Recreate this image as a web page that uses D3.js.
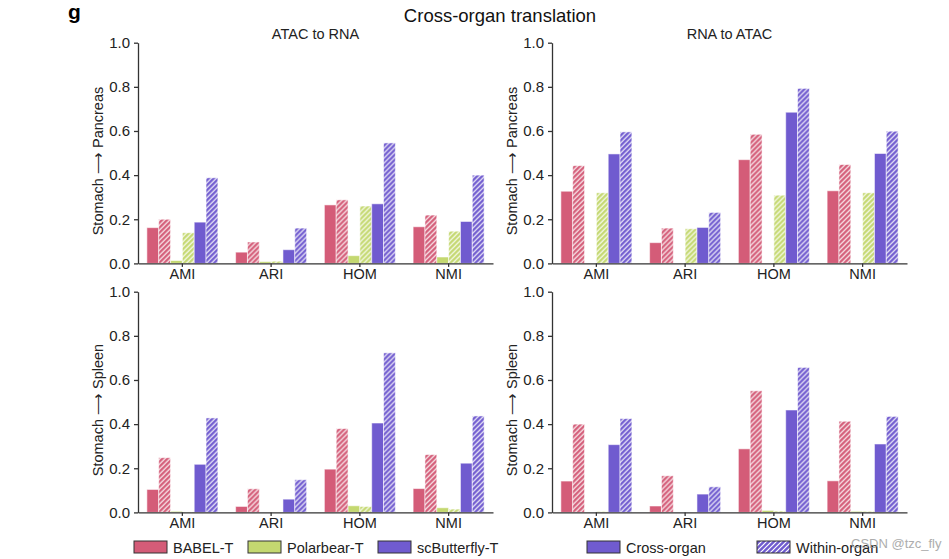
<!DOCTYPE html>
<html>
<head>
<meta charset="utf-8">
<script src="https://cdn.jsdelivr.net/npm/d3@7"></script>
<style>
  body { margin: 0; background: #fff; }
  svg { font-family: "Liberation Sans", Arial, sans-serif; }
  .tick text { fill: #222; }
  .domain, .tick line { stroke: #333; stroke-width: 1.3; }
</style>
</head>
<body>
<script>
const metrics = ["AMI", "ARI", "HOM", "NMI"];
const methods = ["BABEL-T", "Polarbear-T", "scButterfly-T"];
const methodColors = ["#D45C78", "#C4D870", "#705BCF"];
const yTicks = [0, 0.2, 0.4, 0.6, 0.8, 1.0];

// each row = one metric; columns: BABEL cross, BABEL within, Polarbear cross, Polarbear within, scButterfly cross, scButterfly within
const atacToRnaPancreas = [
    [0.162, 0.200, 0.013, 0.139, 0.187, 0.388],
    [0.051, 0.097, 0.008, 0.010, 0.062, 0.160],
    [0.265, 0.288, 0.035, 0.260, 0.270, 0.546],
    [0.166, 0.219, 0.029, 0.146, 0.190, 0.400]
];
const rnaToAtacPancreas = [
    [0.327, 0.443, 0.000, 0.320, 0.496, 0.596],
    [0.094, 0.160, 0.000, 0.157, 0.163, 0.231],
    [0.470, 0.585, 0.000, 0.309, 0.685, 0.793],
    [0.329, 0.448, 0.000, 0.320, 0.498, 0.599]
];
const atacToRnaSpleen = [
    [0.104, 0.248, 0.005, 0.002, 0.218, 0.428],
    [0.027, 0.107, 0.000, 0.000, 0.060, 0.148],
    [0.196, 0.380, 0.030, 0.027, 0.405, 0.723],
    [0.108, 0.262, 0.021, 0.015, 0.223, 0.437]
];
const rnaToAtacSpleen = [
    [0.142, 0.400, 0.000, 0.004, 0.307, 0.425],
    [0.029, 0.166, 0.000, 0.000, 0.083, 0.116],
    [0.288, 0.551, 0.009, 0.006, 0.464, 0.657],
    [0.143, 0.413, 0.005, 0.005, 0.310, 0.435]
];

const W = 949, H = 559;
const svg = d3.select("body").append("svg")
    .attr("width", W)
    .attr("height", H);

// hatch patterns (white //// on colour)
const defs = svg.append("defs");
methodColors.forEach((c, i) => {
    const p = defs.append("pattern")
        .attr("id", "hatch" + i)
        .attr("patternUnits", "userSpaceOnUse")
        .attr("width", 5)
        .attr("height", 5);
    p.append("rect").attr("width", 5).attr("height", 5).attr("fill", c);
    p.append("path")
        .attr("d", "M-1,1 l2,-2 M0,5 l5,-5 M4,6 l2,-2")
        .attr("stroke", "#fff")
        .attr("stroke-width", 1.2);
});

// titles
svg.append("text").attr("x", 68).attr("y", 19)
    .style("font-size", "21px").style("font-weight", "bold").text("g");
svg.append("text").attr("x", 500).attr("y", 22)
    .attr("text-anchor", "middle").style("font-size", "18.5px").attr("fill", "#111")
    .text("Cross-organ translation");

function drawPanel(left, top, data, title, ylabel) {
    const w = 355, h = 220.7;
    const g = svg.append("g").attr("transform", `translate(${left},${top})`);

    const x0 = d3.scaleBand().domain(metrics).range([0, w]).paddingInner(0.2).paddingOuter(0.1);
    const x1 = d3.scaleBand().domain(d3.range(6)).range([0, x0.bandwidth()]);
    const y = d3.scaleLinear().domain([0, 1]).range([h, 0]);

    const grp = g.selectAll(".grp")
        .data(data)
        .enter().append("g")
        .attr("transform", (d, i) => `translate(${x0(metrics[i])},0)`);

    grp.selectAll("rect")
        .data(d => d)
        .enter().append("rect")
        .attr("x", (d, j) => x1(j))
        .attr("width", x1.bandwidth())
        .attr("y", d => y(d))
        .attr("height", d => h - y(d))
        .attr("fill", (d, j) => j % 2 === 0 ? methodColors[Math.floor(j / 2)] : `url(#hatch${Math.floor(j / 2)})`)
        .attr("stroke", "#fff")
        .attr("stroke-opacity", 0.55)
        .attr("stroke-width", 1);

    g.append("g")
        .call(d3.axisLeft(y).tickValues(yTicks).tickFormat(d3.format(".1f"))
            .tickSize(4).tickPadding(4).tickSizeOuter(0))
        .selectAll(".tick text").style("font-size", "15px");

    g.append("g")
        .attr("transform", `translate(0,${h})`)
        .call(d3.axisBottom(x0).tickSize(3.5).tickPadding(2).tickSizeOuter(0))
        .selectAll(".tick text").style("font-size", "14.5px");

    if (title) {
        g.append("text").attr("x", w / 2).attr("y", -3.5)
            .attr("text-anchor", "middle").style("font-size", "14.5px").attr("fill", "#222")
            .text(title);
    }
    g.append("text")
        .attr("transform", `translate(-35,${h / 2 + 8}) rotate(-90)`)
        .attr("text-anchor", "middle").style("font-size", "14.5px").attr("fill", "#222")
        .text(ylabel);
}

drawPanel(138, 42.7, atacToRnaPancreas, "ATAC to RNA", "Stomach \u27F6 Pancreas");
drawPanel(552, 42.7, rnaToAtacPancreas, "RNA to ATAC", "Stomach \u27F6 Pancreas");
drawPanel(138, 291.7, atacToRnaSpleen, null, "Stomach \u27F6 Spleen");
drawPanel(552, 291.7, rnaToAtacSpleen, null, "Stomach \u27F6 Spleen");

// legends
const legendItems = [
    { label: methods[0], fill: methodColors[0], x: 134 },
    { label: methods[1], fill: methodColors[1], x: 248 },
    { label: methods[2], fill: methodColors[2], x: 378 },
    { label: "Cross-organ", fill: methodColors[2], x: 587 },
    { label: "Within-organ", fill: "url(#hatch2)", x: 757 }
];
const leg = svg.selectAll(".leg")
    .data(legendItems)
    .enter().append("g")
    .attr("transform", d => `translate(${d.x},541)`);
leg.append("rect")
    .attr("width", 33).attr("height", 12)
    .attr("fill", d => d.fill)
    .attr("stroke", "#333").attr("stroke-width", 1);
leg.append("text")
    .attr("x", 39).attr("y", 11.5)
    .style("font-size", "14.5px").attr("fill", "#222")
    .text(d => d.label);

// watermark
svg.append("text").attr("x", 851).attr("y", 548)
    .style("font-size", "13px").attr("fill", "#999").attr("opacity", 0.8)
    .text("CSDN @tzc_fly");
</script>
</body>
</html>
